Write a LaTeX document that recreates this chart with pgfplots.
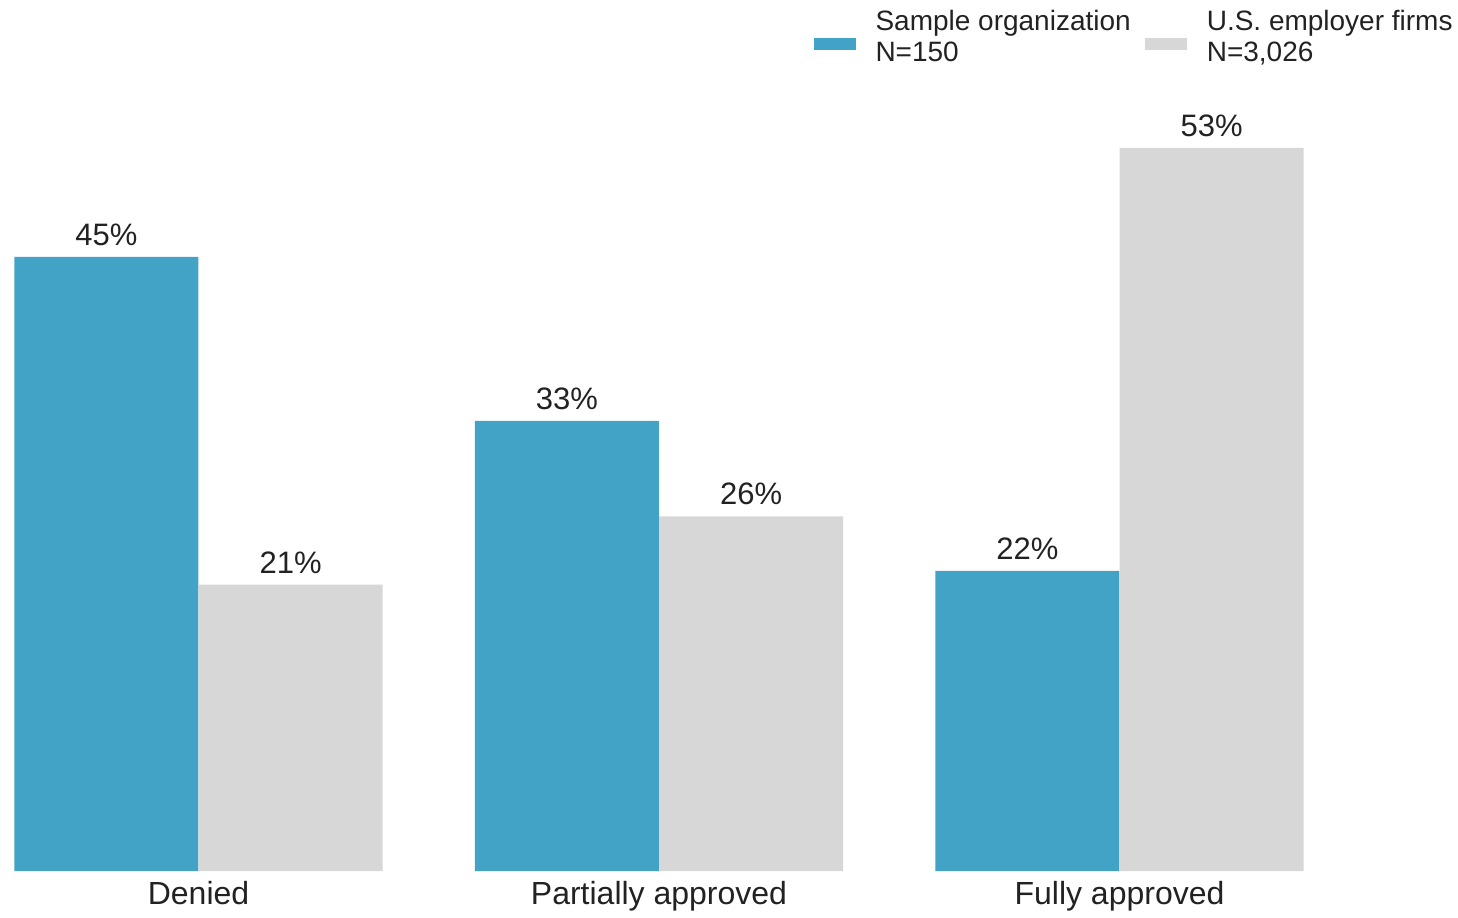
\documentclass[border=0pt]{standalone}
\usepackage{fontspec}
\setmainfont{Liberation Sans}
\usepackage{pgfplots}
\pgfplotsset{compat=1.18}
\definecolor{cblue}{HTML}{43A3C7}
\definecolor{cgray}{HTML}{D7D7D7}
\definecolor{ctext}{HTML}{222222}
\begin{document}
\begin{tikzpicture}
\begin{axis}[
  scale only axis, width=729pt, height=435.5pt,
  xmin=-0.4311, xmax=2.7351, ymin=0, ymax=63.81,
  axis line style={draw=none}, ytick=\empty,
  xtick={0,1,2}, xticklabels={Denied, Partially approved, Fully approved},
  major tick length=0pt,
  /pgf/number format/assume math mode=true,
  ticklabel style={font=\fontsize{16}{19}\selectfont, text=ctext},
  xticklabel style={yshift=-1.5pt},
  ybar=0pt, bar width=0.3996,
  nodes near coords={\pgfmathprintnumber{\pgfplotspointmeta}\%},
  nodes near coords style={font=\fontsize{15.5}{19}\selectfont, text=ctext, yshift=2pt},
  legend style={at={(rel axis cs:1,1)}, anchor=north east, inner sep=0.5pt, yshift=-2.5pt, draw=none, fill=none,
    font=\fontsize{14}{15.5}\selectfont, text=ctext, legend columns=2,
    cells={align=left},
    /tikz/every odd column/.append style={column sep=8pt},
    /tikz/every even column/.append style={column sep=5pt}},
  legend cell align=left,
  legend image code/.code={\fill[#1] (0pt,-6pt) rectangle (21pt,0pt);},
]
\addplot[fill=cblue, draw=none, bar shift=-0.2] coordinates {(0,45) (1,33) (2,22)};
\addplot[fill=cgray, draw=none, bar shift=0.2] coordinates {(0,21) (1,26) (2,53)};
\legend{{Sample organization\\N=150}, {U.S. employer firms\\N=3,026}}
\end{axis}
\end{tikzpicture}
\end{document}
